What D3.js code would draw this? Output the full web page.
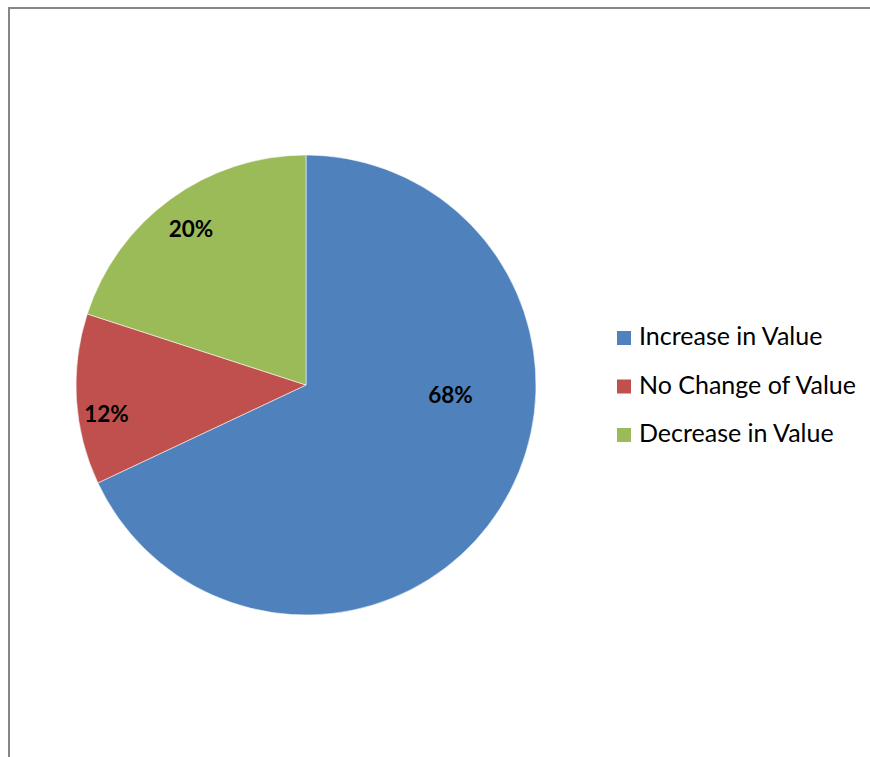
<!DOCTYPE html>
<html>
<head>
<meta charset="utf-8">
<script src="https://cdn.jsdelivr.net/npm/d3@7"></script>
<style>
  html, body { margin: 0; padding: 0; background: #fff; }
  svg { display: block; }
</style>
</head>
<body>
<svg id="chart" width="870" height="757"></svg>
<script>
// Share of items by change in value
const categories = ["Increase in Value", "No Change of Value", "Decrease in Value"];
const shares = [68, 12, 20];
const sliceColors = ["#4F81BD", "#C0504D", "#9BBB59"];

// Label placement (angle in degrees clockwise from 12 o'clock, fraction of radius)
const labelAngles = [94.1, 261.7, 323.6];
const labelRadii = [0.63, 0.877, 0.843];

const W = 870, H = 757;
const cx = 306, cy = 385, radius = 230;

const svg = d3.select("#chart");

// chart-area frame
svg.append("rect")
  .attr("x", 9).attr("y", 8)
  .attr("width", W + 20).attr("height", H + 20)
  .attr("fill", "#fff")
  .attr("stroke", "#868686")
  .attr("stroke-width", 2);

const data = categories.map((c, i) => ({ name: c, value: shares[i], color: sliceColors[i] }));

const pie = d3.pie().value(d => d.value).sort(null);
const arc = d3.arc().innerRadius(0).outerRadius(radius);
const arcs = pie(data);

const g = svg.append("g").attr("transform", `translate(${cx},${cy})`);

g.selectAll("path.slice")
  .data(arcs)
  .join("path")
  .attr("class", "slice")
  .attr("d", arc)
  .attr("fill", d => d.data.color)
  .attr("stroke", "rgba(255,255,255,0.55)")
  .attr("stroke-width", 1);

// percentage labels
const rad = d3.scaleLinear().domain([0, 1]).range([0, radius]);
g.selectAll("text.pct")
  .data(arcs)
  .join("text")
  .attr("class", "pct")
  .attr("x", (d, i) => rad(labelRadii[i]) * Math.sin(labelAngles[i] * Math.PI / 180))
  .attr("y", (d, i) => -rad(labelRadii[i]) * Math.cos(labelAngles[i] * Math.PI / 180))
  .attr("dy", "0.36em")
  .attr("text-anchor", "middle")
  .attr("font-family", "Lato, 'Liberation Sans', sans-serif")
  .attr("font-weight", "bold")
  .attr("font-size", 22.5)
  .attr("fill", "#000")
  .text(d => d.data.value + "%");

// legend
const legendY = d3.scalePoint().domain(categories).range([345, 442]);
const legend = svg.append("g");
const rows = legend.selectAll("g.row")
  .data(data)
  .join("g")
  .attr("class", "row")
  .attr("transform", d => `translate(617,${legendY(d.name)})`);

rows.append("rect")
  .attr("x", 0).attr("y", -14)
  .attr("width", 14).attr("height", 14)
  .attr("fill", d => d.color);

rows.append("text")
  .attr("x", 22).attr("y", 0)
  .attr("font-family", "Lato, 'Liberation Sans', sans-serif")
  .attr("font-size", 25)
  .attr("fill", "#000")
  .text(d => d.name);
</script>
</body>
</html>
